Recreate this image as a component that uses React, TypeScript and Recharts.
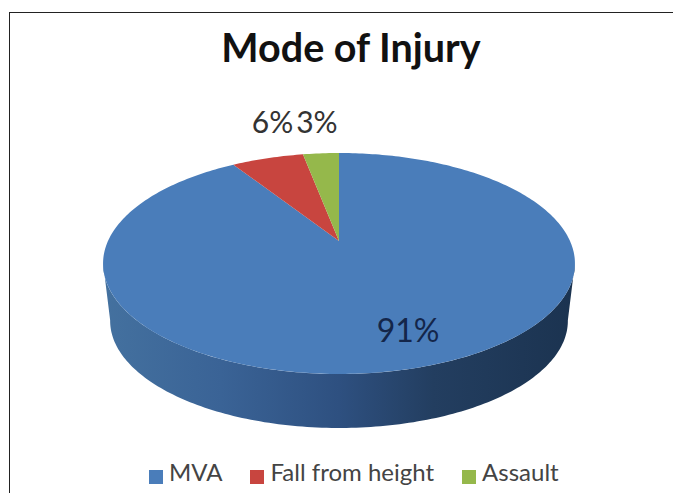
import React from 'react';
import { PieChart, Pie, Legend } from 'recharts';

const categories = ['MVA', 'Fall from height', 'Assault'];
const shares = [91, 6, 3];
const colors = ['#4a7dba', '#c8453f', '#95b84b'];

const chartData = categories.map((name, i) => ({ name, value: shares[i], fill: colors[i] }));

// perspective of the tilted disc: circle (r, angle) -> screen offset from the centre
const TILT = 0.2036;
const SQUASH = 0.4584;
const DEPTH = 58;
const SHRINK = 0.97;
const LABEL_NUDGE_X = [13, 5, -4];
const LABEL_NUDGE_Y = [0, -37, -32];

const project = (r: number, deg: number) => {
  const a = (deg * Math.PI) / 180;
  const w = 1 + TILT * Math.sin(a);
  return { x: (r * Math.cos(a)) / w, y: (-SQUASH * r * Math.sin(a)) / w };
};

const arcPoints = (cx: number, cy: number, r: number, from: number, to: number) => {
  const steps = Math.max(2, Math.ceil(Math.abs(to - from)));
  const pts: string[] = [];
  for (let i = 0; i <= steps; i++) {
    const p = project(r, from + ((to - from) * i) / steps);
    pts.push(`${(cx + p.x).toFixed(2)},${(cy + p.y).toFixed(2)}`);
  }
  return pts;
};

const DiscSlice = (props: any) => {
  const { cx, cy, outerRadius, startAngle, endAngle, fill } = props;
  const top = arcPoints(cx, cy, outerRadius, startAngle, endAngle);
  // only the front part of the rim shows
  const hi = Math.min(startAngle, -11.5);
  const lo = Math.max(endAngle, -168.5);
  const hasRim = hi > lo;
  const rimTop = hasRim ? arcPoints(cx, cy, outerRadius, hi, lo) : [];
  const rimBottom = hasRim ? arcPoints(cx, cy + DEPTH, outerRadius * SHRINK, lo, hi) : [];
  return (
    <g>
      {hasRim && (
        <>
          <defs>
            <linearGradient id="rimShade" x1="0" y1="0" x2="1" y2="0">
              <stop offset="0%" stopColor="#44719f" />
              <stop offset="25%" stopColor="#3a6396" />
              <stop offset="50%" stopColor="#2e5080" />
              <stop offset="70%" stopColor="#233e60" />
              <stop offset="100%" stopColor="#1b3350" />
            </linearGradient>
          </defs>
          <polygon points={[...rimTop, ...rimBottom].join(' ')} fill="url(#rimShade)" />
        </>
      )}
      <polygon points={[`${cx},${cy}`, ...top].join(' ')} fill={fill} />
    </g>
  );
};

const renderLabel = (props: any) => {
  const { cx, cy, midAngle, outerRadius, value, index } = props;
  const inside = value > 50;
  const p = project(inside ? outerRadius * 0.7 : outerRadius, midAngle);
  return (
    <text
      x={cx + p.x + LABEL_NUDGE_X[index]}
      y={cy + p.y + LABEL_NUDGE_Y[index]}
      textAnchor="middle"
      dominantBaseline="central"
      fontSize={inside ? 32 : 30}
      fontFamily="Lato"
      fill={inside ? '#14264a' : '#333'}
    >
      {`${value}%`}
    </text>
  );
};

export default function App() {
  return (
    <div style={{ position: 'absolute', left: 0, top: 0, width: 673, height: 493, background: '#fff', overflow: 'hidden' }}>
      <div style={{ position: 'absolute', left: 9, top: 12, width: 700, height: 520, borderLeft: '1.5px solid #222', borderTop: '1.5px solid #222' }} />
      <PieChart width={673} height={493} margin={{ top: 0, right: 0, bottom: 0, left: 0 }} style={{ position: 'absolute', left: 0, top: 0 }}>
        <text x={351} y={62} textAnchor="middle" fontSize={39.5} fontWeight={700} fontFamily="Lato" fill="#111">
          Mode of Injury
        </text>
        <Pie
          data={chartData}
          dataKey="value"
          nameKey="name"
          cx={339}
          cy={241}
          outerRadius={231}
          startAngle={90}
          endAngle={-270}
          stroke="none"
          shape={DiscSlice}
          label={renderLabel}
          labelLine={false}
          isAnimationActive={false}
        />
        <Legend
          layout="horizontal"
          align="left"
          verticalAlign="bottom"
          iconType="square"
          iconSize={14}
          itemSorter={null}
          wrapperStyle={{ left: 149, top: 457, width: 460, bottom: 'auto', textAlign: 'left' }}
          formatter={(v: string) => (
            <span style={{ color: '#444', fontSize: 24, fontFamily: 'Lato', marginLeft: 2, marginRight: 18 }}>{v}</span>
          )}
        />
      </PieChart>
    </div>
  );
}
